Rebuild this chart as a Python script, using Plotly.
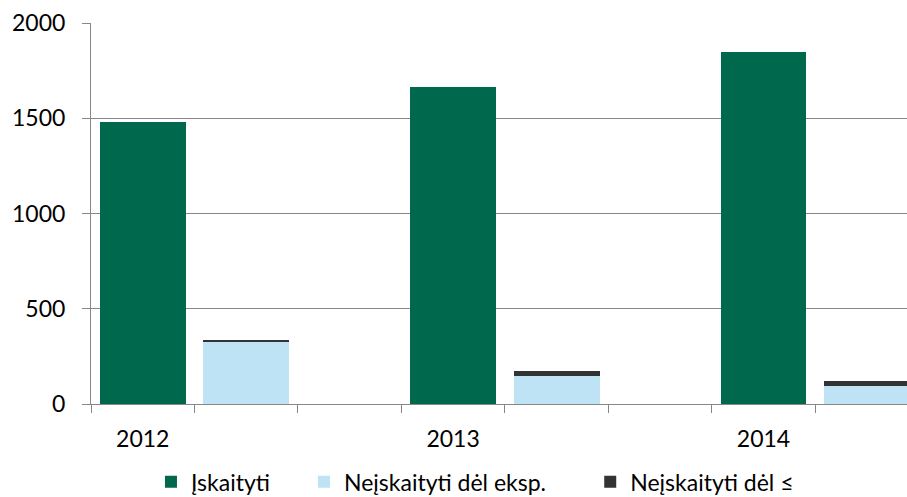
import plotly.graph_objects as go

years = ["2012", "2013", "2014"]
iskaityti = [1480, 1665, 1848]
neisk_eksp = [327, 149, 92]
neisk_le = [6, 22, 30]

series_names = ["Įskaityti", "Neįskaityti dėl eksp.", "Neįskaityti dėl ≤"]
colors = ["#00684D", "#BEE3F5", "#333333"]

# category slots: each year occupies 3 slots (green, blue stack, empty)
green_x = [3 * i for i in range(len(years))]
stack_x = [3 * i + 1 for i in range(len(years))]

FONT = "Lato"
legend_names = ["legend", "legend2", "legend3"]
legend_x = [0.0735, 0.2610, 0.6118]

fig = go.Figure()
fig.add_trace(go.Bar(x=green_x, y=iskaityti, name=series_names[0], legend=legend_names[0],
                     marker=dict(color=colors[0], line=dict(width=0)), width=0.83))
fig.add_trace(go.Bar(x=stack_x, y=neisk_eksp, name=series_names[1], legend=legend_names[1],
                     marker=dict(color=colors[1], line=dict(width=0)), width=0.83))
fig.add_trace(go.Bar(x=stack_x, y=neisk_le, name=series_names[2], legend=legend_names[2],
                     marker=dict(color=colors[2], line=dict(width=0)), width=0.83))

def leg(xp):
    return dict(orientation="h", x=xp, xanchor="left", y=-0.204, yanchor="middle",
                font=dict(size=23, family=FONT, color="black"),
                bgcolor="rgba(0,0,0,0)")

fig.update_layout(
    width=907, height=497,
    barmode="stack",
    plot_bgcolor="white", paper_bgcolor="white",
    margin=dict(l=91, r=0, t=23, b=93, autoexpand=False),
    font=dict(family=FONT, size=23, color="black"),
    showlegend=True,
    legend=leg(legend_x[0]),
    legend2=leg(legend_x[1]),
    legend3=leg(legend_x[2]),
    xaxis=dict(
        range=[-0.5, 7.387], automargin=False,
        tickmode="array", tickvals=green_x, ticktext=years,
        ticks="", showgrid=False, zeroline=False,
        showline=True, linecolor="#888888", linewidth=1,
        ticklabelstandoff=14,
        minor=dict(tick0=-0.5, dtick=1, ticks="outside", ticklen=8,
                   tickcolor="#888888", tickwidth=1, showgrid=False),
    ),
    yaxis=dict(
        range=[0, 2000], tickvals=[0, 500, 1000, 1500, 2000], automargin=False,
        showgrid=True, gridcolor="#888888", gridwidth=1,
        zeroline=False, showline=True, linecolor="#888888", linewidth=1,
        ticks="outside", ticklen=8, tickcolor="#888888",
        ticklabelstandoff=12,
    ),
)

fig.write_html("out.html", config={"displayModeBar": False},
               post_script="document.body.style.margin='0px';document.body.style.overflow='hidden';")
